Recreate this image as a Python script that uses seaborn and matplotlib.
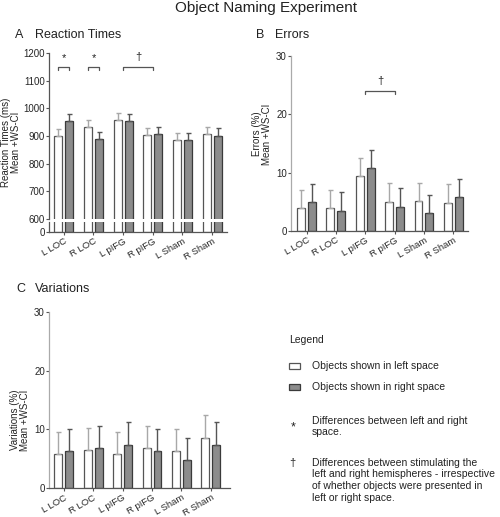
import numpy as np
import pandas as pd
import matplotlib
matplotlib.use("Agg")
import matplotlib.pyplot as plt
import seaborn as sns

# ── Data ──────────────────────────────────────────────────────────────────────
conditions = ["L LOC", "R LOC", "L pIFG", "R pIFG", "L Sham", "R Sham"]
spaces = ["left", "right"]

rt_left = [899, 931, 958, 904, 887, 907]
rt_left_ci = [26, 26, 24, 25, 23, 26]
rt_right = [954, 890, 954, 907, 886, 901]
rt_right_ci = [25, 25, 25, 26, 24, 27]

err_left = [3.95, 3.9, 9.4, 5.0, 5.1, 4.8]
err_left_ci = [3.15, 3.1, 3.1, 3.2, 3.2, 3.2]
err_right = [4.9, 3.5, 10.7, 4.1, 3.0, 5.8]
err_right_ci = [3.1, 3.1, 3.2, 3.2, 3.2, 3.1]

var_left = [5.8, 6.5, 5.8, 6.8, 6.3, 8.5]
var_left_ci = [3.7, 3.8, 3.7, 3.8, 3.7, 3.9]
var_right = [6.3, 6.8, 7.3, 6.3, 4.75, 7.3]
var_right_ci = [3.7, 3.8, 3.9, 3.8, 3.75, 3.9]

# ── Style ─────────────────────────────────────────────────────────────────────
sns.set_style("ticks")
plt.rcParams["font.family"] = ["Liberation Sans", "DejaVu Sans"]
plt.rcParams["axes.linewidth"] = 0.9

W, H = 500, 517
fig = plt.figure(figsize=(W / 100, H / 100), dpi=100)

FILL = {"left": "#ffffff", "right": "#8c8c8c"}
EDGE = {"left": "#555555", "right": "#3a3a3a"}
ECOL = {"left": "#a8a8a8", "right": "#555555"}
SPINE = "#555555"


def px_axes(left, right, top, bottom):
    return fig.add_axes([left / W, 1 - bottom / H, (right - left) / W, (bottom - top) / H])


def make_df(lv, rv):
    return pd.DataFrame({
        "condition": conditions * 2,
        "space": ["left"] * len(conditions) + ["right"] * len(conditions),
        "value": list(lv) + list(rv),
    })


def draw_bars(ax, df, cis, with_err=True):
    sns.barplot(data=df, x="condition", y="value", hue="space", hue_order=spaces,
                order=conditions, palette=FILL, width=0.744, gap=0.274,
                errorbar=None, legend=False, ax=ax, linewidth=0.9, edgecolor="#444444")
    for cont, sp, ci in zip(ax.containers, spaces, cis):
        xs, ys = [], []
        for bar in cont:
            bar.set_edgecolor(EDGE[sp])
            xs.append(bar.get_x() + bar.get_width() / 2)
            ys.append(bar.get_height())
        if with_err:
            ax.errorbar(xs, ys, yerr=[np.zeros(len(ci)), ci], fmt="none",
                        ecolor=ECOL[sp], elinewidth=1.0, capsize=1.8, capthick=1.0, zorder=1)


def style_axis(ax, left_color=SPINE):
    sns.despine(ax=ax)
    ax.spines["left"].set_color(left_color)
    ax.spines["bottom"].set_color(SPINE)
    ax.tick_params(axis="both", length=2, width=0.8, color=SPINE, labelsize=7, pad=1)
    ax.set_xlabel("")
    ax.set_ylabel("")


def xlabels(ax):
    ax.set_xticks(range(len(conditions)))
    ax.set_xticklabels(conditions, rotation=30, ha="right", rotation_mode="anchor", fontsize=6.8)
    ax.tick_params(axis="x", pad=1.5)


def bracket(ax, x0, x1, y, drop, sym, sym_y):
    ax.plot([x0, x0, x1, x1], [y - drop, y, y, y - drop], color="#555555", lw=0.9, clip_on=False)
    ax.text((x0 + x1) / 2, sym_y, sym, ha="center", va="center", fontsize=8, color="#222222")


# ── Panel A: reaction times with broken axis ─────────────────────────────────
df_rt = make_df(rt_left, rt_right)
ax_a = px_axes(49, 227, 53, 219)
ax_a0 = px_axes(49, 227, 222, 232)
draw_bars(ax_a, df_rt, [rt_left_ci, rt_right_ci])
draw_bars(ax_a0, df_rt, [rt_left_ci, rt_right_ci], with_err=False)
for ax in (ax_a, ax_a0):
    style_axis(ax)
    ax.set_xlim(-0.5, 5.5)
ax_a.set_ylim(600, 1200)
ax_a.set_yticks(range(600, 1201, 100))
ax_a.spines["bottom"].set_visible(False)
ax_a.tick_params(axis="x", length=0, labelbottom=False)
ax_a0.set_ylim(0, 40)
ax_a0.set_yticks([0])
xlabels(ax_a0)

off = 0.186
bracket(ax_a, 0 - off, 0 + off, 1150, 10, "*", 1182)
bracket(ax_a, 1 - off, 1 + off, 1150, 10, "*", 1182)
bracket(ax_a, 2, 3, 1150, 10, "\u2020", 1186)

# ── Panel B: errors ──────────────────────────────────────────────────────────
ax_b = px_axes(291, 468, 55.7, 231)
draw_bars(ax_b, make_df(err_left, err_right), [err_left_ci, err_right_ci])
style_axis(ax_b, left_color="#aaaaaa")
ax_b.set_xlim(-0.53, 5.5)
ax_b.set_ylim(0, 30)
ax_b.set_yticks([0, 10, 20, 30])
xlabels(ax_b)
bracket(ax_b, 2, 3, 24, 0.5, "\u2020", 25.6)

# ── Panel C: variations ──────────────────────────────────────────────────────
ax_c = px_axes(49, 230, 311.7, 488.3)
draw_bars(ax_c, make_df(var_left, var_right), [var_left_ci, var_right_ci])
style_axis(ax_c, left_color="#aaaaaa")
ax_c.set_xlim(-0.5, 5.65)
ax_c.set_ylim(0, 30)
ax_c.set_yticks([0, 10, 20, 30])
xlabels(ax_c)


# ── Texts ─────────────────────────────────────────────────────────────────────
def ft(x, y, s, **kw):
    kw.setdefault("fontsize", 7.5)
    kw.setdefault("color", "#222222")
    return fig.text(x / W, 1 - y / H, s, **kw)


ft(266, 8, "Object Naming Experiment", ha="center", va="center", fontsize=11)
ft(15, 35, "A", va="center", fontsize=9)
ft(35, 35, "Reaction Times", va="center", fontsize=9)
ft(256, 35, "B", va="center", fontsize=9)
ft(275, 35, "Errors", va="center", fontsize=9)
ft(16, 289, "C", va="center", fontsize=9)
ft(35, 289, "Variations", va="center", fontsize=9)

ylab = dict(rotation=90, ha="center", va="center", multialignment="center", fontsize=7, linespacing=1.1)
ft(11, 142, "Reaction Times (ms)\nMean +WS-CI", **ylab)
ft(262, 134, "Errors (%)\nMean +WS-CI", **ylab)
ft(20, 420, "Variations (%)\nMean +WS-CI", **ylab)

ft(289, 340, "Legend", va="center", fontsize=7.5)
for yc, sp, label in [(366, "left", "Objects shown in left space"),
                      (387, "right", "Objects shown in right space")]:
    fig.patches.append(plt.Rectangle((289 / W, 1 - (yc + 3) / H), 11 / W, 6 / H,
                                     transform=fig.transFigure, facecolor=FILL[sp],
                                     edgecolor=EDGE[sp], linewidth=0.9))
    ft(312, yc, label, va="center")

ft(293, 427, "*", ha="center", va="center", fontsize=9)
ft(312, 415.5, "Differences between left and right\nspace.", va="top", linespacing=1.22)
ft(292, 463, "\u2020", ha="center", va="center", fontsize=8)
ft(312, 457.5, "Differences between stimulating the\nleft and right hemispheres - irrespective\n"
               "of whether objects were presented in\nleft or right space.", va="top", linespacing=1.22)

fig.savefig("out.png", dpi=100)
